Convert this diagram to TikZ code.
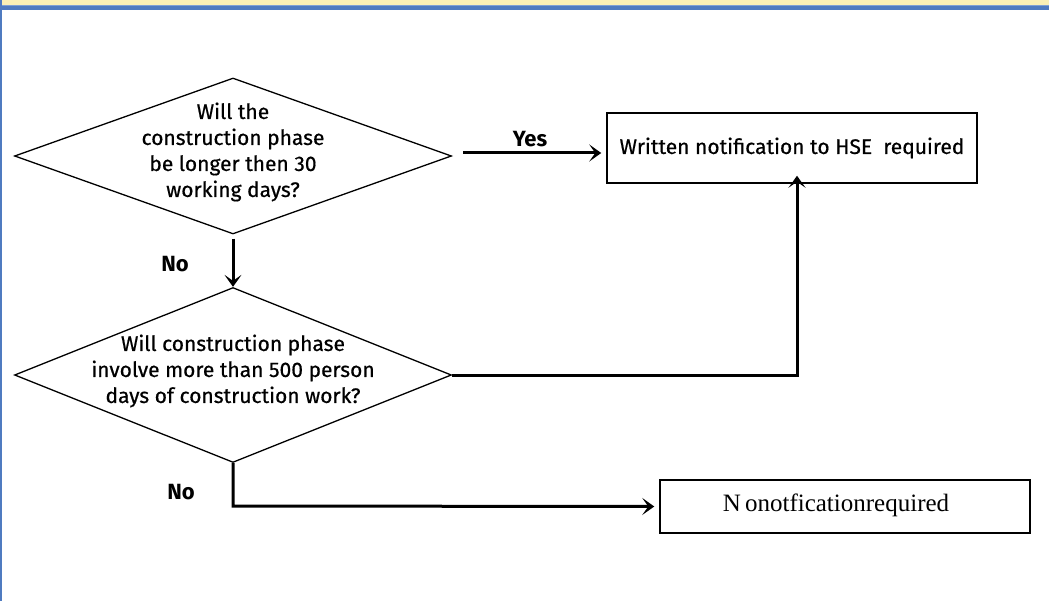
\documentclass[tikz,border=0pt]{standalone}
\usepackage{fontspec}
\setmainfont{Fira Sans}
\newfontfamily\medfont{Fira Sans}[BoldFont={Fira Sans},BoldFeatures={FakeBold=0.6}]
\newfontfamily\serifbox{Liberation Serif}
\usetikzlibrary{shapes.geometric,arrows.meta}
\definecolor{bandyellow}{HTML}{FBF0B6}
\definecolor{bandblue}{HTML}{4F7BC0}
\definecolor{bandlight}{HTML}{7FA0D4}
\tikzset{
  dia/.style={draw, shape=diamond, line width=1.3pt, minimum width=437pt, minimum height=156pt, inner sep=0pt},
  qtext/.style={align=center, font=\medfont\bfseries\fontsize{21}{26}\selectfont, inner sep=0pt},
  outbox/.style={draw, line width=1.5pt, inner sep=0pt},
  flow/.style={line width=3pt, -{Stealth[length=12pt,width=17pt,inset=6pt]}},
  lab/.style={font=\fontsize{22}{24}\selectfont\bfseries, inner sep=0pt}
}
\begin{document}
\begin{tikzpicture}[x=1pt,y=-1pt]
\useasboundingbox (0,0) rectangle (1049,601);
\fill[white] (0,0) rectangle (1049,601);
\fill[bandyellow] (0,0) rectangle (1049,5);
\fill[bandlight] (0,5) rectangle (1049,6.5);
\fill[bandblue] (0,6.5) rectangle (1049,10);
\fill[bandblue] (0,0) rectangle (2,601);

\node[dia] (d1) at (233,156) {};
\node[qtext] (t1) at (233,152) {Will the\\construction phase\\be longer then 30\\working days?};
\node[dia, minimum height=175pt] (d2) at (233,375) {};
\node[qtext] (t2) at (233,371) {Will construction phase\\involve more than 500 person\\days of construction work?};

\node[outbox, minimum width=370pt, minimum height=70pt] (b1) at (792,148) {};
\node[qtext] (bt1) at (792,148) {Written notification to HSE\ \ required};

\node[outbox, minimum width=370pt, minimum height=53pt] (b2) at (845,506.5) {};
\node[font=\serifbox\fontsize{25}{28}\selectfont, inner sep=0pt] (bt2) at (836,505) {N\,onotficationrequired};

\coordinate (y0) at (463,153);
\draw[flow] (y0) -- ([xshift=-5pt]b1.west |- y0);
\node[lab] (yes) at (530,139) {Yes};

\draw[flow] (d1.south) ++(0,4) -- (d2.north);
\node[lab] (no1) at (175,264) {No};

\draw[flow] (d2.east) -| ([yshift=8pt]b1.south -| 797,0);

\coordinate (k1) at (233,506);
\draw[flow] (d2.south) -- (k1) -- ([xshift=-5pt]b2.west);
\node[lab] (no2) at (181,492) {No};
\end{tikzpicture}
\end{document}
